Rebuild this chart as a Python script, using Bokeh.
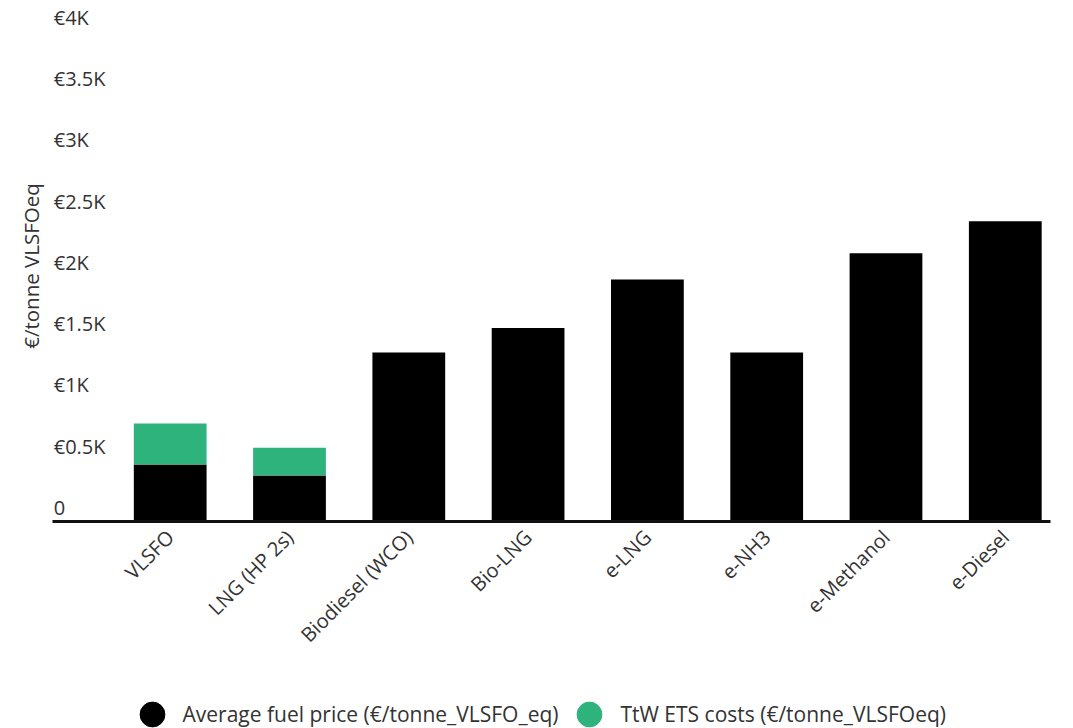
import math
from bokeh.plotting import figure
from bokeh.layouts import column
from bokeh.models import Range1d, FixedTicker, ColumnDataSource, Legend, LegendItem
from bokeh.core.properties import value
from bokeh.embed import file_html
from bokeh.resources import INLINE

# ---- data ----
categories = ["VLSFO", "LNG (HP 2s)", "Biodiesel (WCO)", "Bio-LNG", "e-LNG", "e-NH3", "e-Methanol", "e-Diesel"]
fuel_price = [465, 375, 1380, 1580, 1975, 1380, 2190, 2450]
ets_costs = [335, 227, 0, 0, 0, 0, 0, 0]
y_ticks = [0, 500, 1000, 1500, 2000, 2500, 3000, 3500, 4000]
y_tick_labels = ["0", "€0.5K", "€1K", "€1.5K", "€2K", "€2.5K", "€3K", "€3.5K", "€4K"]
series_names = ["Average fuel price (€/tonne_VLSFO_eq)", "TtW ETS costs (€/tonne_VLSFOeq)"]
series_colors = ["#000000", "#2EB37C"]

FONT = "Open Sans"
TEXT_COLOR = "#333333"

x_idx = list(range(len(categories)))
source = ColumnDataSource(dict(x=x_idx, fuel=fuel_price, ets=ets_costs))

X_START, X_END = -0.9866, 7.379
p = figure(width=1073, height=680, output_backend="svg", toolbar_location=None,
           x_range=Range1d(X_START, X_END), y_range=Range1d(0, 4170),
           min_border_left=52, min_border_right=23, min_border_top=10, min_border_bottom=159,
           background_fill_color="white", border_fill_color="white")
p.outline_line_color = None
p.xgrid.visible = False
p.ygrid.visible = False

p.vbar_stack(["fuel", "ets"], x="x", width=0.61, color=series_colors, source=source, line_color=None)

# y tick labels drawn above their value lines, left aligned
lab_src = ColumnDataSource(dict(x=[X_START + 0.01] * len(y_ticks), y=y_ticks, t=y_tick_labels))
p.text(x="x", y="y", text="t", source=lab_src, text_font=value(FONT), text_font_size="20px",
       text_color=TEXT_COLOR, text_align="left", text_baseline="middle", y_offset=-14)

# y axis: title only
p.yaxis.ticker = FixedTicker(ticks=[])
p.yaxis.axis_line_color = None
p.yaxis.major_tick_line_color = None
p.yaxis.minor_tick_line_color = None
p.yaxis.axis_label = "€/tonne VLSFOeq"
p.yaxis.axis_label_text_font = FONT
p.yaxis.axis_label_text_font_size = "20.5px"
p.yaxis.axis_label_text_font_style = "normal"
p.yaxis.axis_label_text_color = TEXT_COLOR
p.yaxis.axis_label_standoff = 8

# x axis
p.xaxis.ticker = FixedTicker(ticks=x_idx)
p.xaxis.major_label_overrides = {i: c for i, c in zip(x_idx, categories)}
p.xaxis.major_label_orientation = math.pi / 4
p.xaxis.major_label_text_font = FONT
p.xaxis.major_label_text_font_size = "20px"
p.xaxis.major_label_text_color = TEXT_COLOR
p.xaxis.major_label_standoff = 6
p.xaxis.major_tick_line_color = None
p.xaxis.minor_tick_line_color = None
p.xaxis.axis_line_color = "#111111"
p.xaxis.axis_line_width = 3

# legend strip below the chart
lg = figure(width=1073, height=48, output_backend="svg", toolbar_location=None,
            x_range=Range1d(0, 1), y_range=Range1d(0, 1),
            x_axis_location=None, y_axis_location=None,
            min_border_left=0, min_border_right=0, min_border_top=0, min_border_bottom=0,
            background_fill_color="white", border_fill_color="white")
lg.grid.visible = False
lg.outline_line_color = None
# legend key renderers: one hidden point each (outside the strip's range, zero size)
dummy = [lg.scatter(x=[-1], y=[-1], size=0, marker="circle", color=c) for c in series_colors]
legend = Legend(items=[LegendItem(label=n, renderers=[r]) for n, r in zip(series_names, dummy)],
                orientation="horizontal", location=(68.5, -17),
                glyph_width=62, glyph_height=62, label_standoff=0, spacing=-13,
                padding=0, margin=0, border_line_color=None, background_fill_alpha=0,
                label_text_font=FONT, label_text_font_size="21px", label_text_color=TEXT_COLOR)
lg.add_layout(legend)

open("out.html", "w").write(file_html(column(p, lg, spacing=0), INLINE))
